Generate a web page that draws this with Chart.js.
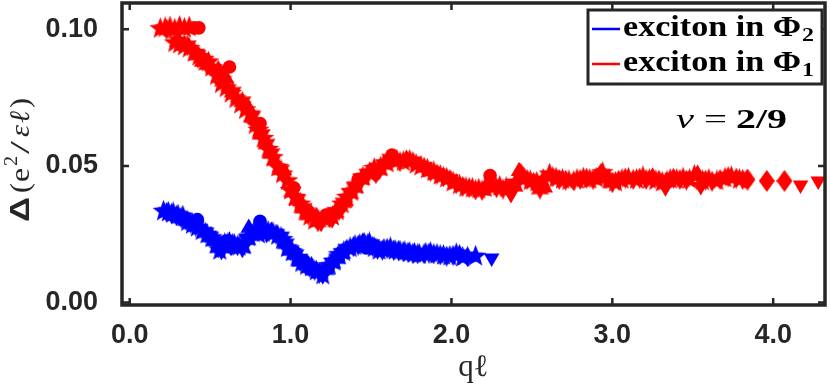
<!DOCTYPE html>
<html><head><meta charset="utf-8">
<script src="https://cdn.jsdelivr.net/npm/chart.js@4.4.0/dist/chart.umd.min.js"></script>
<style>html,body{margin:0;padding:0;background:#fff;}#wrap{width:830px;height:387px;}</style>
</head><body><div id="wrap"><canvas id="c" width="830" height="387"></canvas></div>
<script>
// ---------- DATA ----------
const xTicks = [0, 1, 2, 3, 4];
const xTickLabels = ["0.0", "1.0", "2.0", "3.0", "4.0"];
const yTicks = [0, 0.05, 0.10];
const yTickLabels = ["0.00", "0.05", "0.10"];
const seriesNames = ["exciton in Φ", "exciton in Φ"];
const seriesSubs = ["2", "1"];
const annotation = ["ν", "=", "2/9"];

// exciton in Φ1 (red)
const redStar = [[0.19,0.1002],[0.22,0.1005],[0.25,0.1008],[0.28,0.1000],[0.31,0.1010],[0.34,0.1003],[0.37,0.1008],
 [0.28,0.0950],[0.31,0.0945],[0.34,0.0938],[0.37,0.0930],[0.40,0.0915],[0.43,0.0900],[0.46,0.0890],[0.49,0.0880],
 [0.51,0.0860],[0.54,0.0830],[0.57,0.0800],[0.60,0.0785],[0.63,0.0765],[0.66,0.0745],[0.69,0.0725],[0.72,0.0705],
 [0.75,0.0690],[0.78,0.0650],[0.80,0.0630],[0.83,0.0600],[0.86,0.0560],[0.89,0.0530],[0.92,0.0495],[0.95,0.0470],
 [0.98,0.0445],[1.00,0.0410],[1.03,0.0385],[1.06,0.0360],[1.09,0.0335],[1.12,0.0315],[1.15,0.0300],[1.22,0.0305],
 [1.26,0.0315],[1.29,0.0335],[1.32,0.0360],[1.35,0.0385],[1.38,0.0405],[1.41,0.0430],[1.45,0.0460],[1.49,0.0475],
 [1.52,0.0490],[1.56,0.0495],[1.60,0.0510],[1.66,0.0520],[1.70,0.0515],[1.74,0.0520],[1.78,0.0505],[1.81,0.0498],
 [1.85,0.0488],[1.89,0.0478],[1.93,0.0465],[1.97,0.0455],[2.01,0.0440],[2.05,0.0430],[2.09,0.0420],[2.13,0.0418],
 [2.17,0.0415],[2.21,0.0420],[2.26,0.0430],[2.30,0.0425],[2.34,0.0420],[2.40,0.0440],[2.45,0.0455],[2.49,0.0445],
 [2.53,0.0440],[2.57,0.0450],[2.61,0.0470],[2.65,0.0455],[2.69,0.0450],[2.73,0.0445],[2.78,0.0450],[2.82,0.0455],
 [2.86,0.0450],[2.90,0.0455],[2.94,0.0475],[2.98,0.0450],[3.02,0.0440],[3.06,0.0450],[3.10,0.0455],[3.15,0.0450],
 [3.19,0.0460],[3.23,0.0450],[3.27,0.0445],[3.31,0.0440],[3.36,0.0450],[3.40,0.0450],[3.44,0.0455],[3.48,0.0450],
 [3.51,0.0465],[3.56,0.0445],[3.60,0.0450],[3.65,0.0445],[3.70,0.0455],[3.74,0.0460],[3.79,0.0450]];
const redHex = [[0.23,0.1000],[0.30,0.0955],[0.36,0.0940],[0.42,0.0905],[0.48,0.0870],[0.55,0.0850],[0.58,0.0810],
 [0.64,0.0770],[0.70,0.0735],[0.76,0.0680],[0.82,0.0615],[0.85,0.0580],[0.88,0.0545],[0.94,0.0485],[1.01,0.0405],
 [1.04,0.0375],[1.08,0.0345],[1.11,0.0320],[1.17,0.0295],[1.24,0.0310],[1.28,0.0330],[1.33,0.0365],[1.37,0.0400],
 [1.40,0.0420],[1.44,0.0450],[1.48,0.0470],[1.55,0.0485],[1.58,0.0505],[1.62,0.0525],[1.68,0.0515],[1.76,0.0515],
 [1.83,0.0495],[1.87,0.0480],[1.91,0.0470],[1.95,0.0460],[1.99,0.0450],[2.03,0.0435],[2.07,0.0425],[2.11,0.0420],
 [2.15,0.0412],[2.19,0.0410],[2.28,0.0420],[2.32,0.0415],[2.39,0.0425],[2.47,0.0450],[2.51,0.0440],[2.55,0.0415],
 [2.63,0.0460],[2.67,0.0450],[2.71,0.0448],[2.76,0.0445],[2.80,0.0450],[2.84,0.0455],[2.88,0.0450],[2.96,0.0455],
 [3.00,0.0438],[3.04,0.0448],[3.08,0.0455],[3.13,0.0450],[3.17,0.0455],[3.21,0.0450],[3.29,0.0448],[3.34,0.0445],
 [3.38,0.0455],[3.42,0.0450],[3.46,0.0448],[3.58,0.0448],[3.62,0.0444],[3.67,0.0450],[3.72,0.0460],[3.77,0.0455],
 [3.81,0.0450]];
const redTri = [[0.45,0.0880],[0.60,0.0820],[0.74,0.0710],[0.90,0.0520],[1.06,0.0370],[1.13,0.0325],[1.34,0.0370],
 [1.50,0.0480],[1.72,0.0525],[2.42,0.0480],[2.58,0.0420],[3.25,0.0460],[3.53,0.0470]];
const redDown = [[1.19,0.0290],[1.26,0.0305],[2.37,0.0395],[3.33,0.0420],[3.55,0.0425],[4.17,0.0430],[4.28,0.0445]];
const redCircle = [[0.40,0.1005],[0.43,0.1005],[0.62,0.0862],[0.81,0.0655],[1.02,0.0420],[1.22,0.0320],[1.42,0.0450],
 [1.63,0.0540],[2.24,0.0465]];
const redDiamond = [[0.96,0.0470],[1.16,0.0310],[1.30,0.0340],[1.53,0.0475],[2.43,0.0470],[2.93,0.0470],[3.84,0.0450],
 [3.96,0.0445],[4.07,0.0445]];

// exciton in Φ2 (blue)
const blueStar = [[0.21,0.0334],[0.24,0.0330],[0.27,0.0328],[0.30,0.0320],[0.33,0.0316],[0.36,0.0295],[0.39,0.0285],
 [0.42,0.0275],[0.45,0.0262],[0.48,0.0250],[0.51,0.0237],[0.54,0.0215],[0.56,0.0190],[0.59,0.0215],[0.62,0.0220],
 [0.65,0.0212],[0.68,0.0205],[0.71,0.0210],[0.74,0.0240],[0.77,0.0255],[0.80,0.0250],[0.83,0.0255],[0.86,0.0260],
 [0.89,0.0255],[0.92,0.0245],[0.95,0.0230],[0.98,0.0200],[1.01,0.0185],[1.04,0.0165],[1.07,0.0145],[1.10,0.0135],
 [1.13,0.0130],[1.16,0.0115],[1.20,0.0100],[1.24,0.0135],[1.27,0.0150],[1.30,0.0175],[1.33,0.0185],[1.37,0.0200],
 [1.40,0.0208],[1.43,0.0212],[1.46,0.0215],[1.49,0.0218],[1.52,0.0200],[1.55,0.0190],[1.58,0.0195],[1.62,0.0200],
 [1.65,0.0190],[1.68,0.0188],[1.71,0.0185],[1.74,0.0182],[1.77,0.0180],[1.80,0.0176],[1.84,0.0180],[1.87,0.0182],
 [1.91,0.0176],[1.95,0.0172],[1.99,0.0169],[2.03,0.0178],[2.07,0.0165],[2.15,0.0169]];
const blueHex = [[0.23,0.0330],[0.26,0.0325],[0.29,0.0318],[0.32,0.0310],[0.35,0.0300],[0.38,0.0290],[0.41,0.0280],
 [0.47,0.0255],[0.50,0.0240],[0.53,0.0225],[0.55,0.0200],[0.58,0.0200],[0.61,0.0218],[0.64,0.0215],[0.67,0.0208],
 [0.70,0.0200],[0.73,0.0230],[0.76,0.0250],[0.79,0.0262],[0.85,0.0255],[0.91,0.0250],[0.94,0.0240],[0.97,0.0215],
 [1.00,0.0190],[1.03,0.0175],[1.06,0.0150],[1.09,0.0140],[1.12,0.0128],[1.15,0.0118],[1.18,0.0108],[1.22,0.0120],
 [1.26,0.0145],[1.29,0.0160],[1.32,0.0180],[1.35,0.0195],[1.39,0.0205],[1.42,0.0210],[1.48,0.0215],[1.51,0.0205],
 [1.54,0.0195],[1.57,0.0192],[1.60,0.0198],[1.64,0.0192],[1.67,0.0190],[1.70,0.0186],[1.73,0.0184],[1.76,0.0180],
 [1.79,0.0178],[1.83,0.0178],[1.86,0.0181],[1.89,0.0178],[1.93,0.0174],[1.97,0.0170],[2.01,0.0172],[2.05,0.0175],
 [2.10,0.0168]];
const blueTri = [[0.44,0.0270],[0.74,0.0273],[0.88,0.0262],[1.13,0.0130],[1.29,0.0170],[1.45,0.0222]];
const blueDown = [[0.57,0.0188],[1.20,0.0098],[2.25,0.0163]];
const blueCircle = [[0.42,0.0304],[0.60,0.0225],[0.81,0.0297],[1.03,0.0182],[1.47,0.0200]];
const blueDiamond = [[0.63,0.0210],[0.95,0.0230],[1.10,0.0140]];

// ---------- STYLE ----------
const RED = '#ff0000', BLUE = '#0000ff', AX = '#262626';
function makeStar(color, size, n, ratio){
  const cv = document.createElement('canvas'); cv.width = size; cv.height = size;
  const g = cv.getContext('2d'); const c = size/2, R = size/2, r = R*ratio;
  g.beginPath();
  for (let i=0;i<2*n;i++){ const a = -Math.PI/2 + i*Math.PI/n; const rr = i%2?r:R;
    const px = c + rr*Math.cos(a), py = c + rr*Math.sin(a); i?g.lineTo(px,py):g.moveTo(px,py); }
  g.closePath(); g.fillStyle = color; g.fill(); return cv;
}
function makeDiamond(color, w, h){
  const cv = document.createElement('canvas'); cv.width = w; cv.height = h;
  const g = cv.getContext('2d');
  g.beginPath(); g.moveTo(w/2, 0); g.lineTo(w, h/2); g.lineTo(w/2, h); g.lineTo(0, h/2); g.closePath();
  g.fillStyle = color; g.fill(); return cv;
}
const toPts = a => a.map(p => ({x:p[0], y:p[1]}));
function ds(data, color, style, radius, rotation){
  return {data: toPts(data), backgroundColor: color, borderColor: color, borderWidth: 0,
    pointStyle: style, pointRadius: radius, pointHoverRadius: radius, rotation: rotation||0, showLine:false};
}
const datasets = [
  ds(blueHex, BLUE, makeStar(BLUE,21,6,0.55), 10),
  ds(blueStar, BLUE, makeStar(BLUE,23,5,0.42), 11),
  ds(blueTri, BLUE, 'triangle', 9.5),
  ds(blueDown, BLUE, 'triangle', 9, 180),
  ds(blueCircle, BLUE, 'circle', 6.8),
  ds(blueDiamond, BLUE, makeDiamond(BLUE,16,22), 10),
  ds(redHex, RED, makeStar(RED,21,6,0.55), 10),
  ds(redStar, RED, makeStar(RED,23,5,0.42), 11),
  ds(redTri, RED, 'triangle', 9.5),
  ds(redDown, RED, 'triangle', 9, 180),
  ds(redCircle, RED, 'circle', 6.8),
  ds(redDiamond, RED, makeDiamond(RED,16,22), 10),
];

function fitText(ctx, text, x, y, targetW){
  const w = ctx.measureText(text).width; const s = targetW ? targetW / w : 1;
  ctx.save(); ctx.translate(x, y); ctx.scale(s, 1); ctx.fillText(text, 0, 0); ctx.restore();
  return w*s;
}

const decor = {
  id: 'decor',
  afterDatasetsDraw(chart){
    const {ctx, chartArea:a, scales:{x, y}} = chart;
    ctx.save();
    // inward ticks
    ctx.strokeStyle = AX; ctx.lineWidth = 2.5; const tl = 7;
    xTicks.forEach(v => { const px = x.getPixelForValue(v);
      ctx.beginPath(); ctx.moveTo(px, a.bottom); ctx.lineTo(px, a.bottom - tl);
      ctx.moveTo(px, a.top); ctx.lineTo(px, a.top + tl); ctx.stroke(); });
    yTicks.forEach(v => { const py = y.getPixelForValue(v);
      ctx.beginPath(); ctx.moveTo(a.left, py); ctx.lineTo(a.left + tl, py);
      ctx.moveTo(a.right, py); ctx.lineTo(a.right - tl, py); ctx.stroke(); });
    // frame
    ctx.lineWidth = 3.5; ctx.strokeRect(a.left, a.top, a.right - a.left, a.bottom - a.top);

    // legend
    const lx = a.right - 237, ly = a.top + 7, lw = 234, lh = 74;
    ctx.fillStyle = '#fff'; ctx.fillRect(lx, ly, lw, lh);
    ctx.lineWidth = 3; ctx.strokeStyle = AX; ctx.strokeRect(lx, ly, lw, lh);
    const rows = [ly + 19, ly + 54]; const cols = [BLUE, RED];
    rows.forEach((ry, i) => {
      ctx.strokeStyle = cols[i]; ctx.lineWidth = 2.5;
      ctx.beginPath(); ctx.moveTo(lx + 4, ry); ctx.lineTo(lx + 32, ry); ctx.stroke();
      ctx.fillStyle = '#000'; ctx.textBaseline = 'alphabetic'; ctx.textAlign = 'left';
      ctx.font = 'bold 29px "Liberation Serif"';
      const w = fitText(ctx, seriesNames[i], lx + 35, ry + 7, 178);
      ctx.font = 'bold 19px "Liberation Serif"';
      fitText(ctx, seriesSubs[i], lx + 35 + w + 1, ry + 12, 12);
    });

    // annotation  ν = 2/9
    ctx.fillStyle = '#000'; ctx.textAlign = 'left'; ctx.textBaseline = 'alphabetic';
    const bx = a.right - 149, by = a.top + 125;
    ctx.font = 'italic 28px "Liberation Serif"'; fitText(ctx, annotation[0], bx, by, 18);
    ctx.font = '28px "Liberation Serif"'; fitText(ctx, annotation[1], bx + 28, by, 23);
    ctx.font = 'bold 28px "Liberation Serif"'; fitText(ctx, annotation[2], bx + 60, by, 51);

    // x title  qℓ
    ctx.font = '31px "Liberation Serif"'; ctx.textAlign = 'center';
    ctx.fillStyle = AX;
    ctx.fillText('qℓ', (a.left + a.right)/2, 376);

    // y title  Δ (e²/εℓ)
    ctx.save(); ctx.translate(29, 222); ctx.rotate(-Math.PI/2); ctx.textAlign = 'left';
    ctx.fillStyle = AX;
    ctx.font = 'bold 27px "Liberation Sans"'; fitText(ctx, 'Δ', 0, 0, 25);
    ctx.font = '28px "Liberation Serif"';
    fitText(ctx, '(', 29, 0, 10);
    fitText(ctx, 'e', 40, 0, 14);
    ctx.font = '18px "Liberation Serif"'; fitText(ctx, '2', 56, -12, 10);
    ctx.font = '28px "Liberation Serif"';
    fitText(ctx, '/', 68, 0, 13);
    ctx.font = 'italic 28px "Liberation Serif"'; fitText(ctx, 'ε', 85, 0, 12);
    ctx.font = 'italic 28px "DejaVu Serif"'; fitText(ctx, 'ℓ', 99, 0, 12);
    ctx.font = '28px "Liberation Serif"'; fitText(ctx, ')', 114, 0, 10);
    ctx.restore();
    ctx.restore();
  }
};

const tickFont = {family: '"Liberation Sans", Arial, sans-serif', size: 27, weight: 'bold'};
new Chart(document.getElementById('c'), {
  type: 'scatter',
  data: {datasets},
  options: {
    responsive: false, animation: false, devicePixelRatio: 1,
    layout: {autoPadding: false, padding: {left: 0, right: 5, top: 3, bottom: 0}},
    plugins: {legend: {display: false}, tooltip: {enabled: false}},
    scales: {
      x: {type: 'linear', min: -0.048, max: 4.322,
        grid: {display: false, drawTicks: false}, border: {display: false},
        afterBuildTicks: s => { s.ticks = xTicks.map(v => ({value: v})); },
        afterFit: s => { s.height = 82; s.paddingLeft = 0; s.paddingRight = 0; },
        ticks: {font: tickFont, color: AX, padding: 14, maxRotation: 0,
          callback: v => xTickLabels[xTicks.findIndex(t => Math.abs(t - v) < 1e-9)]}},
      y: {type: 'linear', min: -0.0009, max: 0.1096,
        grid: {display: false, drawTicks: false}, border: {display: false},
        afterBuildTicks: s => { s.ticks = yTicks.map(v => ({value: v})); },
        afterFit: s => { s.width = 122; s.paddingTop = 0; s.paddingBottom = 0; },
        ticks: {font: tickFont, color: AX, padding: 24,
          callback: v => yTickLabels[yTicks.findIndex(t => Math.abs(t - v) < 1e-9)]}}
    }
  },
  plugins: [decor]
});
</script></body></html>
